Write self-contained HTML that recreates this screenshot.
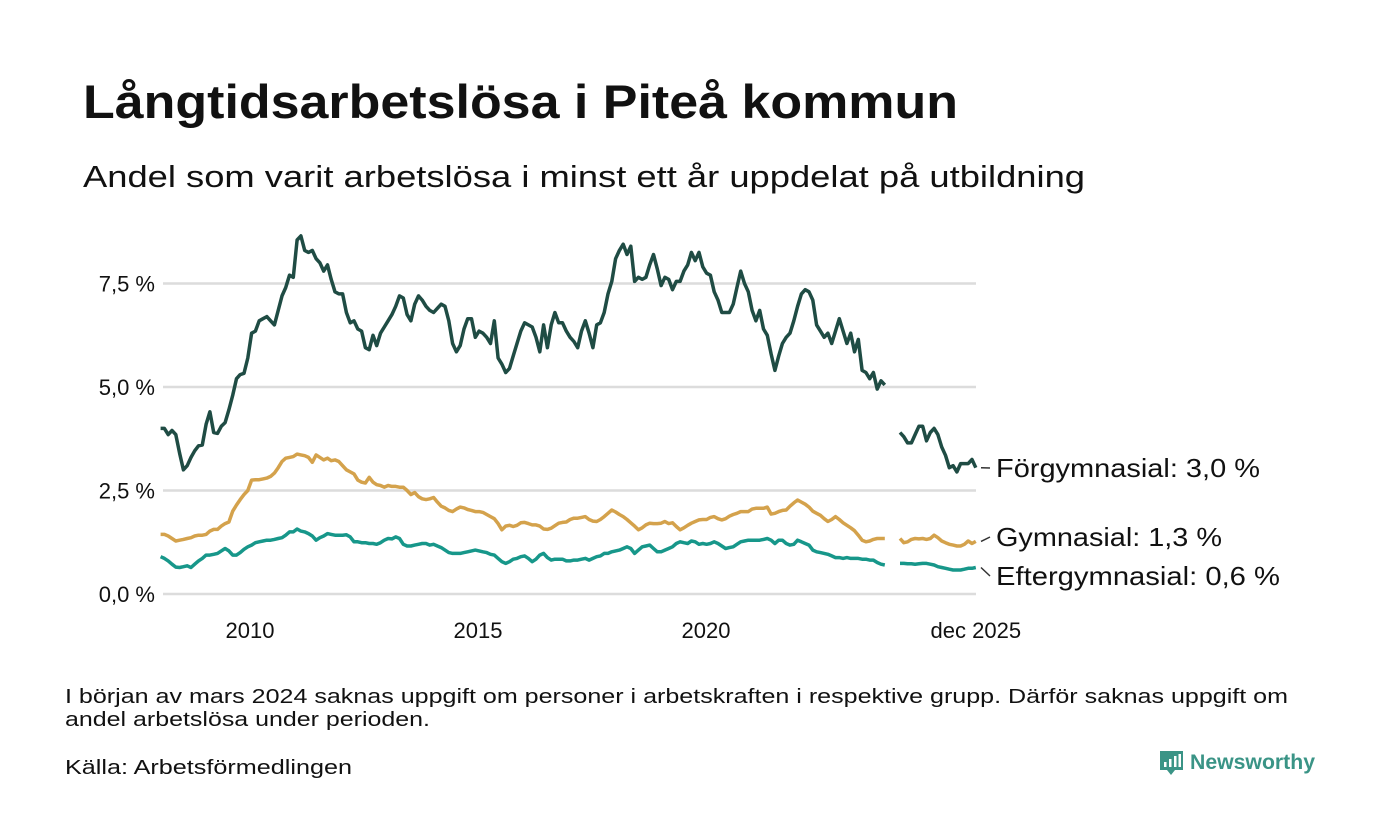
<!DOCTYPE html>
<html><head><meta charset="utf-8"><style>
html,body{margin:0;padding:0;background:#fff}
svg{display:block;font-family:"Liberation Sans",sans-serif}
</style></head><body>
<svg id="chart" width="1400" height="840" viewBox="0 0 1400 840" xmlns="http://www.w3.org/2000/svg">
<rect width="1400" height="840" fill="#fff"/>
<text x="83" y="118" font-size="47" font-weight="bold" fill="#111" textLength="875" lengthAdjust="spacingAndGlyphs">Långtidsarbetslösa i Piteå kommun</text>
<text x="83" y="187" font-size="31" fill="#111" textLength="1002" lengthAdjust="spacingAndGlyphs">Andel som varit arbetslösa i minst ett år uppdelat på utbildning</text>
<g id="grid"></g>
<g id="yticks"></g>
<g id="xticks"></g>
<g id="series"></g>
<g id="labels"></g>
<text x="65" y="703" font-size="20" fill="#111" textLength="1223" lengthAdjust="spacingAndGlyphs">I början av mars 2024 saknas uppgift om personer i arbetskraften i respektive grupp. Därför saknas uppgift om</text>
<text x="65" y="726" font-size="20" fill="#111" textLength="365" lengthAdjust="spacingAndGlyphs">andel arbetslösa under perioden.</text>
<text x="65" y="774" font-size="20" fill="#111" textLength="287" lengthAdjust="spacingAndGlyphs">Källa: Arbetsförmedlingen</text>
<g>
<path d="M1160 751h23v19h-8l-4 5-4-5h-7z" fill="#3a9486"/>
<rect x="1164" y="762" width="2.5" height="5" fill="#fff"/>
<rect x="1169" y="759" width="2.5" height="8" fill="#fff"/>
<rect x="1174" y="756" width="2.5" height="11" fill="#fff"/>
<rect x="1178.5" y="754" width="2.5" height="13" fill="#fff"/>
<text x="1190" y="769" font-size="21" font-weight="bold" fill="#3a9486" textLength="125" lengthAdjust="spacingAndGlyphs">Newsworthy</text>
</g>
</svg>
<script>
const yTicks = [0, 2.5, 5, 7.5];
const yTickLabels = ["0,0 %", "2,5 %", "5,0 %", "7,5 %"];
const xTickYears = [2010, 2015, 2020, 2025.917];
const xTickLabels = ["2010", "2015", "2020", "dec 2025"];
const startYear = 2008.04;
const forgymnasial = [
4.0,4.0,3.85,3.95,3.85,3.4,3.0,3.1,3.3,3.46,3.58,3.6,
4.1,4.4,3.9,3.88,4.05,4.14,4.45,4.8,5.2,5.3,5.33,5.7,
6.3,6.35,6.6,6.65,6.7,6.6,6.5,6.85,7.2,7.4,7.7,7.65,
8.55,8.65,8.3,8.25,8.3,8.1,8.0,7.8,7.95,7.6,7.3,7.25,
7.25,6.8,6.55,6.6,6.4,6.35,5.95,5.9,6.25,6.0,6.3,6.45,
6.6,6.75,6.95,7.2,7.15,6.75,6.6,7.0,7.2,7.1,6.95,6.85,
6.8,6.9,7.0,6.95,6.6,6.05,5.85,6.0,6.4,6.65,6.65,6.2,
6.35,6.3,6.2,6.05,6.6,5.7,5.55,5.35,5.45,5.75,6.05,6.35,
6.55,6.5,6.45,6.2,5.85,6.5,5.95,6.5,6.8,6.55,6.55,6.35,
6.2,6.1,5.95,6.35,6.6,6.3,5.95,6.5,6.55,6.8,7.25,7.55,
8.1,8.3,8.45,8.2,8.4,7.55,7.65,7.6,7.65,7.95,8.2,7.85,
7.45,7.65,7.6,7.35,7.55,7.55,7.8,7.95,8.25,8.05,8.25,7.9,
7.75,7.7,7.3,7.1,6.8,6.8,6.8,7.0,7.4,7.8,7.5,7.3,
6.85,6.6,6.85,6.4,6.25,5.8,5.4,5.75,6.05,6.2,6.3,6.6,
6.95,7.25,7.35,7.3,7.1,6.5,6.35,6.2,6.3,6.05,6.35,6.65,
6.35,6.05,6.3,5.85,6.15,5.4,5.35,5.2,5.35,4.95,5.15,5.05,
null,null,null,3.9,3.8,3.65,3.65,3.85,4.05,4.05,3.7,3.9,
4.0,3.85,3.55,3.35,3.05,3.1,2.95,3.15,3.15,3.15,3.25,3.05];
const gymnasial = [
1.44,1.44,1.4,1.34,1.28,1.3,1.32,1.34,1.36,1.4,1.42,1.42,
1.44,1.52,1.56,1.56,1.64,1.7,1.74,2.0,2.15,2.28,2.4,2.5,
2.75,2.76,2.76,2.78,2.8,2.84,2.92,3.05,3.2,3.28,3.3,3.32,
3.38,3.36,3.34,3.3,3.18,3.36,3.3,3.24,3.28,3.22,3.24,3.2,
3.1,3.0,2.95,2.9,2.75,2.7,2.68,2.82,2.7,2.64,2.62,2.58,
2.62,2.6,2.6,2.58,2.58,2.5,2.4,2.45,2.35,2.3,2.28,2.3,
2.33,2.22,2.12,2.08,2.02,1.99,2.05,2.1,2.08,2.04,2.02,1.99,
1.99,1.97,1.92,1.87,1.82,1.7,1.55,1.64,1.66,1.63,1.66,1.72,
1.73,1.7,1.67,1.67,1.64,1.57,1.56,1.59,1.65,1.71,1.73,1.74,
1.8,1.83,1.83,1.85,1.87,1.8,1.76,1.75,1.8,1.87,1.95,2.03,
1.98,1.92,1.87,1.8,1.72,1.64,1.55,1.6,1.67,1.71,1.7,1.7,
1.71,1.75,1.7,1.72,1.63,1.55,1.6,1.66,1.71,1.75,1.79,1.8,
1.8,1.85,1.87,1.82,1.79,1.82,1.88,1.92,1.95,1.99,1.99,1.99,
2.05,2.07,2.07,2.07,2.1,1.93,1.95,1.99,2.02,2.03,2.12,2.2,
2.27,2.22,2.17,2.1,2.0,1.95,1.9,1.82,1.75,1.8,1.87,1.8,
1.72,1.66,1.6,1.53,1.42,1.3,1.26,1.28,1.32,1.34,1.34,1.34,
null,null,null,1.34,1.24,1.26,1.32,1.34,1.33,1.34,1.32,1.34,
1.42,1.36,1.28,1.24,1.2,1.18,1.16,1.16,1.2,1.28,1.22,1.27];
const eftergymnasial = [
0.9,0.86,0.8,0.72,0.65,0.64,0.66,0.68,0.64,0.72,0.8,0.86,
0.94,0.94,0.96,0.98,1.04,1.1,1.04,0.94,0.94,1.0,1.08,1.14,
1.18,1.24,1.26,1.28,1.3,1.3,1.32,1.34,1.36,1.42,1.5,1.5,
1.57,1.52,1.5,1.46,1.4,1.3,1.36,1.4,1.46,1.44,1.42,1.42,
1.42,1.43,1.38,1.26,1.26,1.24,1.24,1.22,1.22,1.2,1.24,1.3,
1.34,1.33,1.38,1.34,1.2,1.16,1.16,1.18,1.2,1.22,1.22,1.18,
1.2,1.16,1.12,1.06,1.0,0.98,0.98,0.98,1.0,1.02,1.04,1.06,
1.04,1.02,1.0,0.96,0.94,0.86,0.78,0.74,0.78,0.84,0.86,0.9,
0.92,0.86,0.78,0.84,0.94,0.98,0.88,0.82,0.84,0.84,0.84,0.8,
0.8,0.82,0.82,0.84,0.86,0.82,0.86,0.9,0.92,0.98,0.98,1.02,
1.04,1.06,1.1,1.14,1.1,0.98,1.06,1.14,1.16,1.18,1.1,1.02,
1.02,1.06,1.1,1.14,1.22,1.26,1.24,1.22,1.28,1.26,1.2,1.22,
1.2,1.22,1.26,1.22,1.16,1.1,1.12,1.14,1.2,1.26,1.28,1.3,
1.3,1.3,1.3,1.32,1.34,1.3,1.22,1.3,1.3,1.22,1.18,1.2,
1.3,1.26,1.22,1.18,1.06,1.02,1.0,0.98,0.96,0.92,0.88,0.88,
0.86,0.88,0.86,0.86,0.86,0.84,0.84,0.82,0.82,0.76,0.72,0.7,
null,null,null,0.74,0.74,0.73,0.73,0.72,0.73,0.74,0.74,0.72,
0.7,0.66,0.64,0.62,0.6,0.58,0.58,0.58,0.6,0.62,0.62,0.64];
const seriesNames = ["Förgymnasial: 3,0 %", "Gymnasial: 1,3 %", "Eftergymnasial: 0,6 %"];

const NS = "http://www.w3.org/2000/svg";
const X0 = 250, PX_PER_YEAR = 45.6, Y0 = 594, PX_PER_PCT = 41.4;
function xScale(yearFrac){ return X0 + (yearFrac - 2010) * PX_PER_YEAR; }
function xIndex(i, n){ const f = (2025.917 - startYear) / (n - 1); return xScale(startYear + i * f); }
function yScale(v){ return Y0 - v * PX_PER_PCT; }
function mk(tag, attrs, parent){
  const e = document.createElementNS(NS, tag);
  for (const k in attrs) e.setAttribute(k, attrs[k]);
  parent.appendChild(e); return e;
}
const grid = document.getElementById('grid');
const yt = document.getElementById('yticks');
yTicks.forEach((v, i) => {
  const l = mk('line', {x1: 163, x2: 976, y1: yScale(v), y2: yScale(v), stroke: '#dcdcdc', 'stroke-width': 2.5}, grid);
  
  
  const t = mk('text', {x: 155, y: yScale(v) + 8, 'font-size': 22, 'text-anchor': 'end', fill: '#111'}, yt);
  t.textContent = yTickLabels[i];
  
  
});
const xt = document.getElementById('xticks');
xTickYears.forEach((yv, i) => {
  const t = mk('text', {x: xScale(yv), y: 638, 'font-size': 22, 'text-anchor': 'middle', fill: '#111'}, xt);
  t.textContent = xTickLabels[i];
  
  
});
const sg = document.getElementById('series');
const allSeries = [forgymnasial, gymnasial, eftergymnasial];
const colors = ['#1f4c44', '#d4a24c', '#17978a'];
const ids = ['line-forgymnasial', 'line-gymnasial', 'line-eftergymnasial'];
allSeries.forEach((data, si) => {
  let d = '', pen = false;
  data.forEach((v, i) => {
    if (v === null) { pen = false; return; }
    d += (pen ? 'L' : 'M') + xIndex(i, data.length).toFixed(1) + ' ' + yScale(v).toFixed(1);
    pen = true;
  });
  const p = mk('path', {d: d, fill: 'none', stroke: colors[si], 'stroke-width': 3.5, 'stroke-linejoin': 'round'}, sg);
  
  
});
const lg = document.getElementById('labels');
const labelY = [468, 537, 576];
const labelW = [264, 226, 284];
allSeries.forEach((data, si) => {
  const last = data[data.length - 1];
  const ly = yScale(last);
  const ln = mk('line', {x1: 981, y1: ly, x2: 990, y2: labelY[si], stroke: '#333', 'stroke-width': 1.5}, lg);
  
  
  const t = mk('text', {x: 996, y: labelY[si] + 9, 'font-size': 26, fill: '#111', textLength: labelW[si], lengthAdjust: 'spacingAndGlyphs'}, lg);
  t.textContent = seriesNames[si];
  
  
});
</script>
</body></html>
